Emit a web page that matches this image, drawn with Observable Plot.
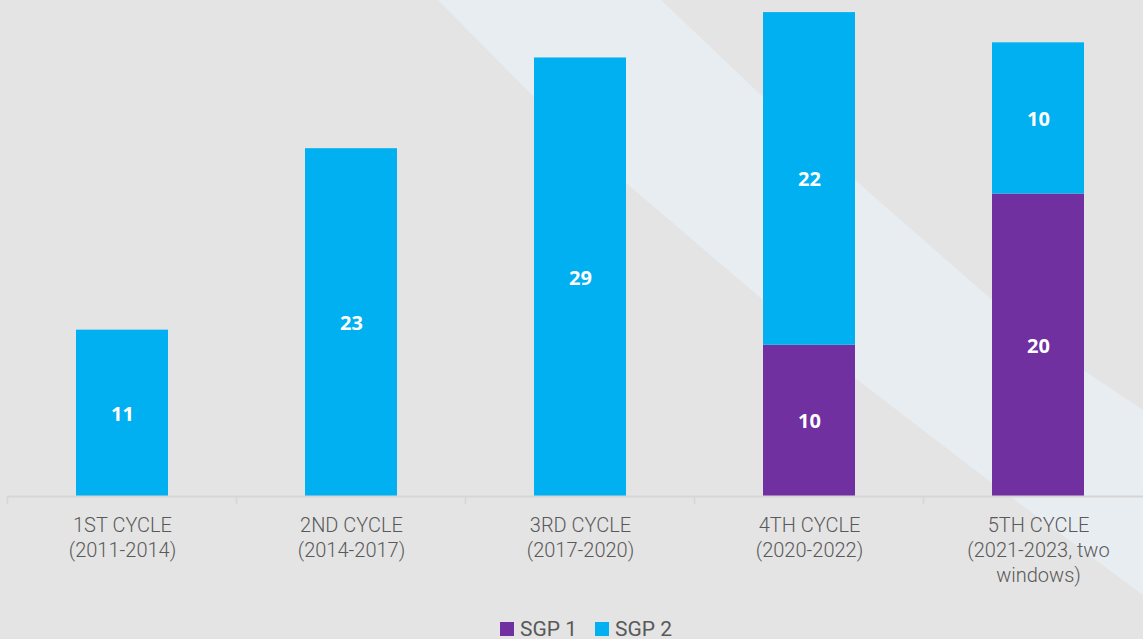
<!DOCTYPE html>
<html><head><meta charset="utf-8">
<script src="https://cdn.jsdelivr.net/npm/d3@7"></script>
<script src="https://cdn.jsdelivr.net/npm/@observablehq/plot@0.6"></script>
<style>
html,body{margin:0;padding:0;background:#e4e4e4;width:1143px;height:639px;overflow:hidden;}
#bg{position:absolute;left:0;top:0;}
#chart{position:absolute;left:0;top:0;}
#legend{position:absolute;left:500px;top:617px;display:flex;align-items:center;font-family:Roboto,sans-serif;font-size:21px;color:#595959;}
#legend .item{display:flex;align-items:center;margin-right:18px;}
#legend .sw{width:14px;height:14px;margin-right:6px;}
</style>
</head><body>
<svg id="bg" width="1143" height="639">
  <path d="M438,0 L661,0 L763,97 L855,180 L992,300 L1083,370 L1143,410 L1143,595 L992,483 L855,378 L763,300 L625,182 L534,97 Z" fill="#e8edf1"/>
</svg>
<div id="chart"></div>
<div id="legend"></div>
<script>
const cycles = ["1ST CYCLE\n(2011-2014)", "2ND CYCLE\n(2014-2017)", "3RD CYCLE\n(2017-2020)", "4TH CYCLE\n(2020-2022)", "5TH CYCLE\n(2021-2023, two\nwindows)"];
const series = ["SGP 1", "SGP 2"];
const sgp1 = [0, 0, 0, 10, 20];
const sgp2 = [11, 23, 29, 22, 10];
const colors = ["#7030a0", "#00b0f0"];

const rows = [];
cycles.forEach((c, i) => {
  if (sgp1[i] > 0) rows.push({cycle: c, series: "SGP 1", value: sgp1[i]});
  if (sgp2[i] > 0) rows.push({cycle: c, series: "SGP 2", value: sgp2[i]});
});

const plot = Plot.plot({
  width: 1152, height: 600,
  marginLeft: 7, marginRight: 0, marginTop: 0, marginBottom: 104,
  style: {background: "transparent", fontFamily: "Roboto, sans-serif", overflow: "visible", maxWidth: "none"},
  x: {domain: cycles, paddingInner: 0.6, paddingOuter: 0.3, label: null},
  y: {domain: [0, 32.8], axis: null},
  color: {domain: series, range: colors},
  marks: [
    Plot.barY(rows, {x: "cycle", y: "value", fill: "series", z: "series"}),
    Plot.text(rows, Plot.stackY({x: "cycle", y: "value", z: "series", text: d => String(d.value), fill: "white", fontFamily: "Open Sans, sans-serif", fontWeight: 700, fontSize: 20, dy: 1})),
    Plot.ruleY([0], {stroke: "#d6d6d6", strokeWidth: 2}),
    Plot.axisX({tickSize: 0, tickPadding: 18, fontSize: 20, fill: "#595959", fontWeight: 300, lineHeight: 1.25, label: null})
  ]
});
document.getElementById("chart").appendChild(plot);

// boundary ticks between categories
const xs = plot.scale("x");
const ys = plot.scale("y");
const y0 = ys.apply(0);
const start = xs.apply(cycles[0]) - (xs.step - xs.bandwidth) / 2;
const svg = d3.select(plot);
d3.range(cycles.length + 1).forEach(i => {
  const bx = start + i * xs.step;
  svg.append("line").attr("x1", bx).attr("x2", bx).attr("y1", y0).attr("y2", y0 + 8)
    .attr("stroke", "#d6d6d6").attr("stroke-width", 1.5);
});

// legend
const lg = d3.select("#legend");
series.forEach((s, i) => {
  const it = lg.append("div").attr("class", "item");
  it.append("div").attr("class", "sw").style("background", colors[i]);
  it.append("span").text(s);
});
</script>
</body></html>
